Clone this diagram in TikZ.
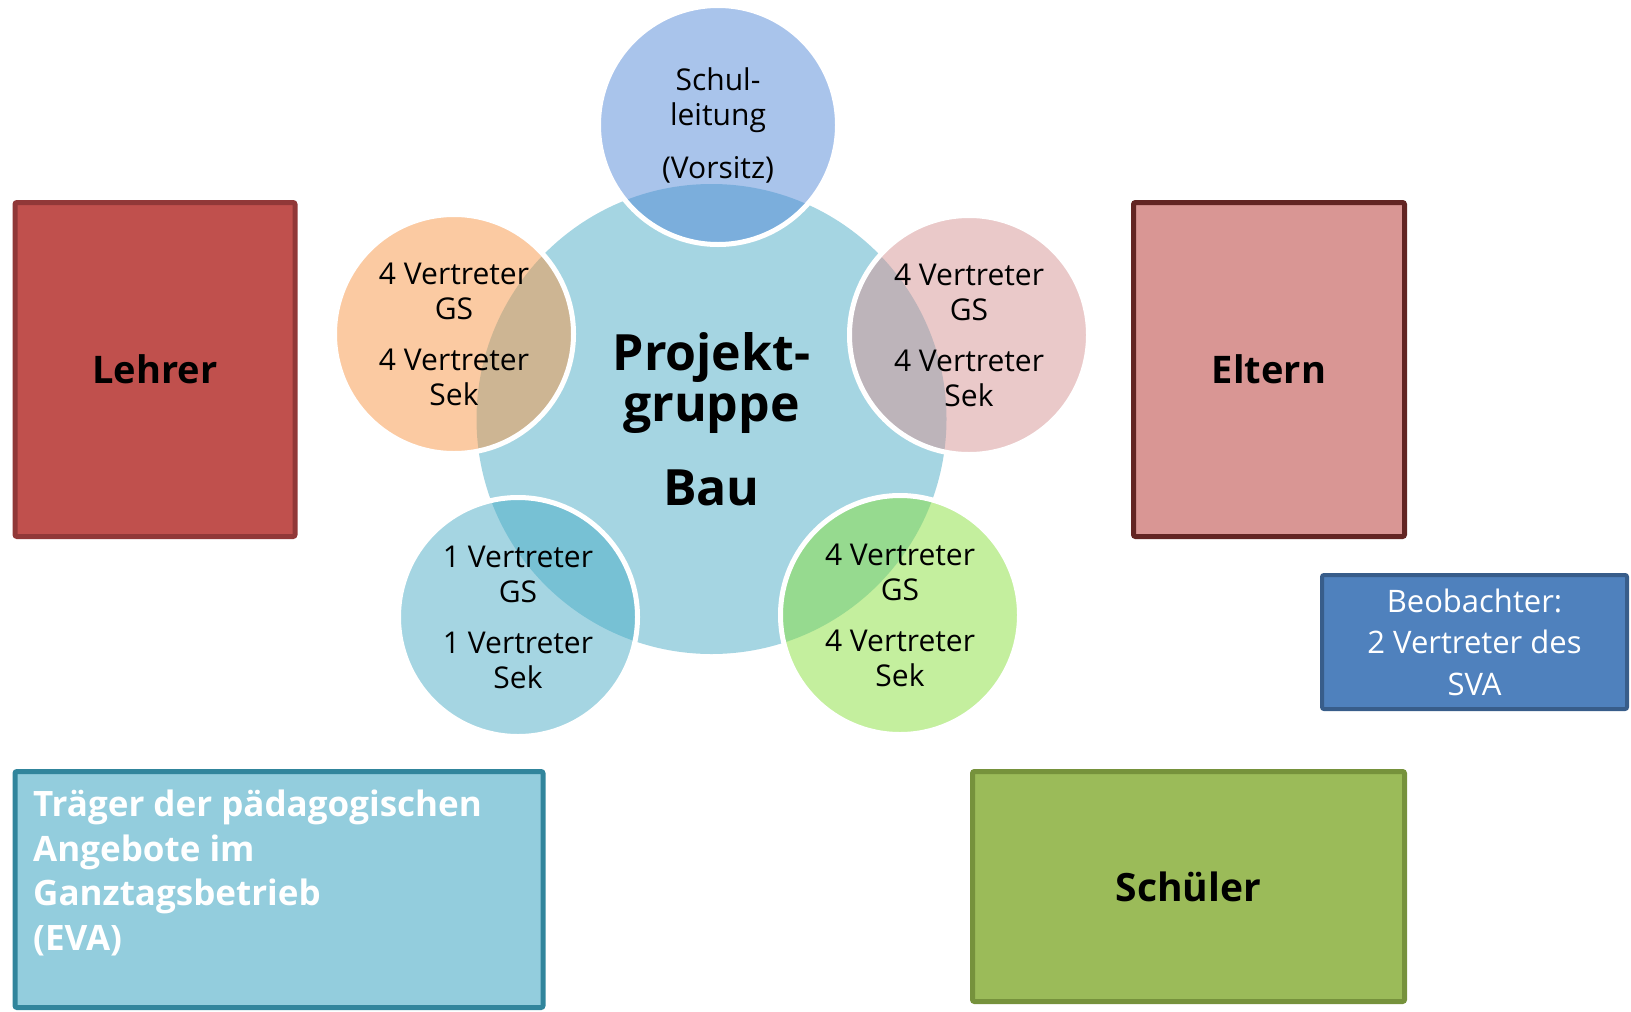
\documentclass[tikz,border=0pt]{standalone}
\usepackage{fontspec}
\setmainfont{Open Sans}
\usepackage{tikz}

\definecolor{schulblue}{RGB}{83,137,215}
\definecolor{lehrerorange}{RGB}{247,150,70}
\definecolor{elternpink}{RGB}{213,147,147}
\definecolor{evateal}{RGB}{75,172,198}
\definecolor{schuelerlime}{RGB}{137,223,61}

\begin{document}
\begin{tikzpicture}[x = 1pt, y = -1pt,
                        core/.style = {circle, fill = evateal, fill opacity = 0.5, text opacity = 1, inner sep = 0pt, minimum size = 470pt, align = center, font = \fontsize{50}{51}\bfseries},
                        member/.style = {circle, draw = white, line width = 5pt, fill opacity = 0.5, draw opacity = 1, text opacity = 1, inner sep = 0pt, minimum size = 239pt, align = center, font = \fontsize{30}{35}\selectfont},
                        group/.style = {rectangle, rounded corners = 2pt, line width = 5pt, inner sep = 0pt, font = \fontsize{38}{45}\bfseries}]
    \useasboundingbox (0, 0) rectangle (1631, 1012);
    % Projektgruppe in der Mitte
    \node [core] (bau) at (711.5, 419){Projekt-\\gruppe\\[33pt]Bau};
    \node [member, fill = schulblue] (schul) at (718, 125){Schul-\\leitung\\[18pt](Vorsitz)};
    \node [member, fill = lehrerorange] (lehrergs) at (454, 334){4 Vertreter\\GS\\[16pt]4 Vertreter\\Sek};
    \node [member, fill = elternpink] (elterngs) at (969, 335){4 Vertreter\\GS\\[16pt]4 Vertreter\\Sek};
    \node [member, fill = evateal] (evags) at (518, 617){1 Vertreter\\GS\\[16pt]1 Vertreter\\Sek};
    \node [member, fill = schuelerlime] (schuelergs) at (900, 615){4 Vertreter\\GS\\[16pt]4 Vertreter\\Sek};
    % Gruppen aussen
    \node [group, fill = {rgb,255:red,192;green,80;blue,77}, draw = {rgb,255:red,145;green,56;blue,56}, minimum width = 280pt, minimum height = 334pt] (lehrer) at (155, 369.5){Lehrer};
    \node [group, fill = {rgb,255:red,217;green,150;blue,148}, draw = {rgb,255:red,99;green,37;blue,35}, minimum width = 271pt, minimum height = 334pt] (eltern) at (1269, 369.5){Eltern};
    \node [group, fill = {rgb,255:red,155;green,187;blue,89}, draw = {rgb,255:red,118;green,146;blue,60}, minimum width = 432pt, minimum height = 230pt, font = \fontsize{39}{45}\bfseries] (schueler) at (1188.5, 886.5){Schüler};
    \node [group, fill = {rgb,255:red,79;green,129;blue,189}, draw = {rgb,255:red,56;green,93;blue,138}, line width = 4pt, minimum width = 305pt, minimum height = 134pt, align = center, text = white, font = \fontsize{31}{41.5}\selectfont] (sva) at (1474.5, 642){Beobachter:\\2 Vertreter des\\SVA};
    \node [group, fill = {rgb,255:red,147;green,205;blue,221}, draw = {rgb,255:red,49;green,133;blue,156}, minimum width = 528pt, minimum height = 236pt] (eva) at (279, 889.5){};
    \node [anchor = base west, align = left, inner sep = 0pt, text = white, font = \fontsize{35}{44.5}\bfseries] (evatext) at (33, 950){Träger der pädagogischen\\Angebote im\\Ganztagsbetrieb\\(EVA)};
  \end{tikzpicture}
\end{document}
